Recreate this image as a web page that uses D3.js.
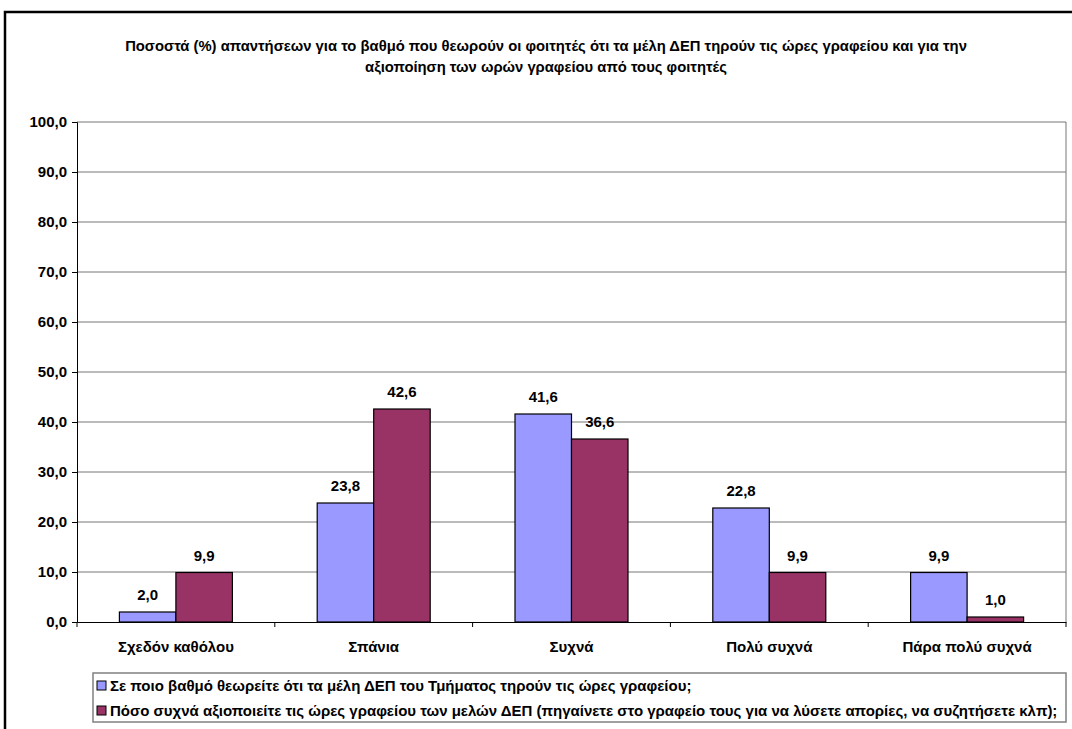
<!DOCTYPE html>
<html><head><meta charset="utf-8">
<script src="https://cdn.jsdelivr.net/npm/d3@7"></script>
<style>body{margin:0;background:#fff}svg{display:block}text{font-family:"Liberation Sans",Arial,sans-serif;font-weight:bold}</style>
</head><body><svg id="c" width="1072" height="729"></svg>
<script>
const categories = ["Σχεδόν καθόλου","Σπάνια","Συχνά","Πολύ συχνά","Πάρα πολύ συχνά"];
const series1 = [2.0, 23.8, 41.6, 22.8, 9.9];
const series2 = [9.9, 42.6, 36.6, 9.9, 1.0];
const seriesNames = ["Σε ποιο βαθμό θεωρείτε ότι τα μέλη ΔΕΠ του Τμήματος τηρούν τις ώρες γραφείου;",
 "Πόσο συχνά αξιοποιείτε τις ώρες γραφείου των μελών ΔΕΠ (πηγαίνετε στο γραφείο τους για να λύσετε απορίες, να συζητήσετε κλπ);"];
const yTicks = [0,10,20,30,40,50,60,70,80,90,100];
const titleLines = ["Ποσοστά (%) απαντήσεων για το βαθμό που θεωρούν οι φοιτητές ότι τα μέλη ΔΕΠ τηρούν τις ώρες γραφείου και για την",
 "αξιοποίηση των ωρών γραφείου από τους φοιτητές"];
const colors = ["#9999FF","#993366"];
const fmt = v => v.toFixed(1).replace(".", ",");

const svg = d3.select("#c");
// frame
svg.append("path").attr("d","M5,729 V12 H1072").attr("fill","none").attr("stroke","#000").attr("stroke-width",2.5);

const L=77, R=1066, T=122, B=622;
const x = d3.scaleBand().domain(categories).range([L,R]).paddingInner(0).paddingOuter(0);
const y = d3.scaleLinear().domain([0,100]).range([B,T]);
const sub = d3.scaleBand().domain([0,1]).range([0,113]);
const groupOff = (x.bandwidth()-113)/2;

// title
svg.append("g").selectAll("text").data(titleLines).join("text")
 .attr("x",546).attr("y",(d,i)=>51+i*21).attr("text-anchor","middle").attr("font-size",14.8).text(d=>d);

// gridlines
svg.append("g").selectAll("line").data(yTicks.filter(t=>t>0)).join("line")
 .attr("x1",L).attr("x2",R).attr("y1",d=>y(d)).attr("y2",d=>y(d)).attr("stroke","#777").attr("stroke-width",1);
svg.append("line").attr("x1",R).attr("x2",R).attr("y1",T).attr("y2",B).attr("stroke","#777");

// y axis
const ya = svg.append("g").attr("transform",`translate(${L},0)`).call(d3.axisLeft(y).tickValues(yTicks).tickFormat(fmt).tickSize(5).tickPadding(5));
ya.select(".domain").attr("stroke","#000");
ya.selectAll("text").attr("font-size",15).attr("font-family","Liberation Sans, Arial, sans-serif").attr("font-weight","bold").attr("fill","#000");

// bars
const data = categories.map((c,i)=>({c, v:[series1[i],series2[i]]}));
const g = svg.append("g").selectAll("g").data(data).join("g").attr("transform",d=>`translate(${x(d.c)+groupOff},0)`);
g.selectAll("rect").data(d=>d.v.map((v,k)=>({v,k}))).join("rect")
 .attr("x",d=>sub(d.k)).attr("width",sub.bandwidth()).attr("y",d=>y(d.v)).attr("height",d=>B-y(d.v))
 .attr("fill",d=>colors[d.k]).attr("stroke","#000").attr("stroke-width",1.2);
g.selectAll("text").data(d=>d.v.map((v,k)=>({v,k}))).join("text")
 .attr("x",d=>sub(d.k)+sub.bandwidth()/2).attr("y",d=>y(d.v)-12).attr("text-anchor","middle").attr("font-size",15).text(d=>fmt(d.v));

// x axis
const xa = svg.append("g").attr("transform",`translate(0,${B})`).call(d3.axisBottom(x).tickSize(0).tickPadding(19));
xa.select(".domain").attr("stroke","#000");
xa.selectAll("text").attr("font-size",15).attr("font-family","Liberation Sans, Arial, sans-serif").attr("font-weight","bold").attr("fill","#000");
const tickPos = d3.range(categories.length+1).map(i=>L+i*x.step());
svg.append("g").selectAll("line").data(tickPos).join("line").attr("x1",d=>d).attr("x2",d=>d).attr("y1",B).attr("y2",B+5).attr("stroke","#000");

// legend
svg.append("rect").attr("x",93).attr("y",673).attr("width",R-93).attr("height",49).attr("fill","#fff").attr("stroke","#808080").attr("stroke-width",1.5);
const lg = svg.append("g").selectAll("g").data(seriesNames).join("g").attr("transform",(d,i)=>`translate(97,${681+i*25})`);
lg.append("rect").attr("width",9).attr("height",9).attr("fill",(d,i)=>colors[i]).attr("stroke","#000");
lg.append("text").attr("x",13).attr("y",10).attr("font-size",15).text(d=>d);
</script></body></html>
